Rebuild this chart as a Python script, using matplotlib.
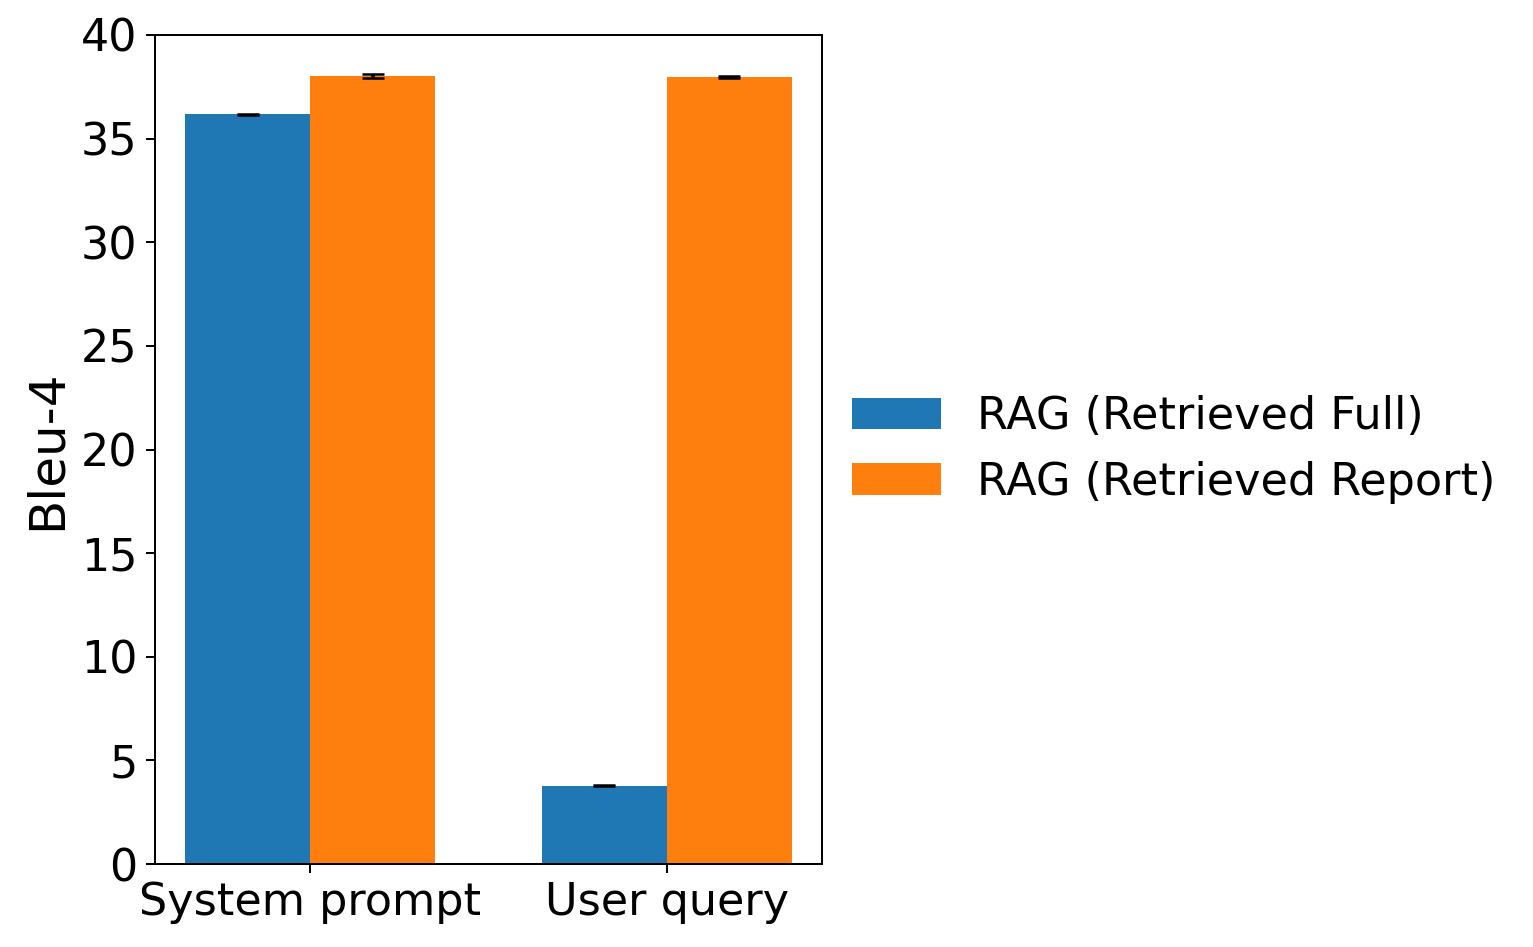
import matplotlib.pyplot as plt
import numpy as np

# values
categories = ["System prompt", "User query"]
full_means = [36.18, 3.78]
full_errs = [0.03, 0.02]
report_means = [38.03, 37.97]
report_errs = [0.10, 0.03]
series_labels = ["RAG (Retrieved Full)", "RAG (Retrieved Report)"]

dpi = 180
fig = plt.figure(figsize=(1533 / dpi, 947 / dpi), dpi=dpi)
ax = fig.add_axes([155 / 1533, (947 - 864) / 947, (822 - 155) / 1533, (864 - 35) / 947])

x = np.arange(len(categories))
width = 0.35

ax.bar(x - width / 2, full_means, width, yerr=full_errs, capsize=4.5,
       color="#1f77b4", label=series_labels[0])
ax.bar(x + width / 2, report_means, width, yerr=report_errs, capsize=4.5,
       color="#ff7f0e", label=series_labels[1])

ax.set_xticks(x)
ax.set_xticklabels(categories)
ax.set_ylim(0, 40)
ax.set_ylabel("Bleu-4", fontsize=20)
ax.tick_params(axis="both", labelsize=17.8)

ax.legend(loc="center left", bbox_to_anchor=(0.985, 0.5), fontsize=17.8, frameon=False)

fig.savefig("out.png", dpi=dpi)
